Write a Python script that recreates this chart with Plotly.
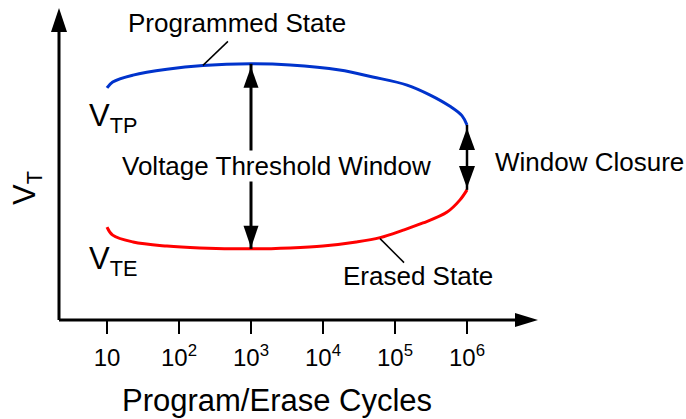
import numpy as np
import plotly.graph_objects as go

# ---------------- data ----------------
tick_vals = [10, 1e2, 1e3, 1e4, 1e5, 1e6]
tick_text = ["10", "10<sup>2</sup>", "10<sup>3</sup>", "10<sup>4</sup>",
             "10<sup>5</sup>", "10<sup>6</sup>"]

# programmed-state threshold voltage (arbitrary units) vs P/E cycles
prog_cycles = [10, 12, 23, 68, 215, 1000, 3500, 17000, 49000, 147000,
               308000, 580000, 850000, 1e6]
prog_vt = [7.44, 7.63, 7.85, 8.04, 8.16, 8.21, 8.17, 8.01, 7.79, 7.53,
           7.21, 6.85, 6.55, 6.25]

# erased-state threshold voltage (arbitrary units) vs P/E cycles
erase_cycles = [10, 12, 23, 68, 195, 1000, 3500, 1e4, 2.9e4, 6.2e4,
                1.3e5, 2.45e5, 5.3e5, 8e5, 1e6]
erase_vt = [2.98, 2.72, 2.50, 2.37, 2.31, 2.28, 2.31, 2.37, 2.50, 2.64,
            2.88, 3.11, 3.46, 3.85, 4.17]

# ---------------- layout geometry ----------------
W, H = 686, 419
ML, MR, MT, MB = 59, 148, 8, 99
PW, PH = W - ML - MR, H - MT - MB
FONT = "Liberation Sans, Arial, sans-serif"
BLUE = "#0033cc"
RED = "#ff0000"

x_lo = 1 - (107 - ML) / 72.0
x_hi = 1 + (W - MR - 107) / 72.0


def px(x):
    return (x - ML) / PW


def py(y):
    return (H - MB - y) / PH


fig = go.Figure()
fig.add_trace(go.Scatter(x=prog_cycles, y=prog_vt, mode="lines",
                         line=dict(color=BLUE, width=3, shape="spline"),
                         hoverinfo="skip"))
fig.add_trace(go.Scatter(x=erase_cycles, y=erase_vt, mode="lines",
                         line=dict(color=RED, width=3, shape="spline"),
                         hoverinfo="skip"))

shapes = []


def head(xa, ya, direction, L, Wd, gap, xref="x", yref="y"):
    if direction == "up":
        p = f"M0,{-gap} L{Wd},{-gap - L} L{-Wd},{-gap - L} Z"
    elif direction == "down":
        p = f"M0,{gap} L{Wd},{gap + L} L{-Wd},{gap + L} Z"
    else:  # right
        p = f"M{-gap},0 L{-gap - L},{Wd} L{-gap - L},{-Wd} Z"
    shapes.append(dict(type="path", path=p, xref=xref, yref=yref,
                       xsizemode="pixel", ysizemode="pixel",
                       xanchor=xa, yanchor=ya,
                       fillcolor="black", line=dict(width=0)))


# axes (lines with arrow heads)
shapes.append(dict(type="line", xref="paper", yref="paper", x0=0, x1=0,
                   y0=0, y1=1 - 20 / PH, line=dict(color="black", width=3)))
shapes.append(dict(type="line", xref="paper", yref="paper", x0=0,
                   x1=1 - 20 / PW, y0=0, y1=0,
                   line=dict(color="black", width=3)))
head(0, 1, "up", 24, 8, 0, xref="paper", yref="paper")
head(1, 0, "right", 23, 7, 0, xref="paper", yref="paper")

# voltage threshold window arrow at 10^3 cycles
i_w = prog_cycles.index(1000)
j_w = erase_cycles.index(1000)
shapes.append(dict(type="line", xref="x", yref="y",
                   x0=prog_cycles[i_w], x1=erase_cycles[j_w],
                   y0=prog_vt[i_w], y1=erase_vt[j_w],
                   line=dict(color="black", width=3)))
head(prog_cycles[i_w], prog_vt[i_w], "up", 21, 7.5, 3)
head(erase_cycles[j_w], erase_vt[j_w], "down", 22, 7.5, 1)

# window closure arrow at 10^6 cycles
shapes.append(dict(type="line", xref="x", yref="y",
                   x0=prog_cycles[-1], x1=erase_cycles[-1],
                   y0=prog_vt[-1], y1=erase_vt[-1],
                   line=dict(color="black", width=2.5)))
head(prog_cycles[-1], prog_vt[-1], "up", 22, 8, 3)
head(erase_cycles[-1], erase_vt[-1], "down", 22, 8, 2)

# leader lines
shapes.append(dict(type="line", xref="x", yref="y", xsizemode="pixel",
                   ysizemode="pixel", xanchor=prog_cycles[4],
                   yanchor=prog_vt[4], x0=0, y0=0, x1=25, y1=24,
                   line=dict(color="black", width=1.5)))
shapes.append(dict(type="line", xref="x", yref="y", xsizemode="pixel",
                   ysizemode="pixel", xanchor=erase_cycles[9],
                   yanchor=erase_vt[9], x0=0, y0=-1, x1=24, y1=-25,
                   line=dict(color="black", width=1.5)))

ann = []


def text(t, x, y, size, xanchor="center", angle=0, bg=None):
    d = dict(text=t, x=px(x), y=py(y), xref="paper", yref="paper",
             showarrow=False, xanchor=xanchor, yanchor="middle",
             textangle=angle, font=dict(family=FONT, size=size,
                                        color="black"))
    if bg:
        d.update(bgcolor=bg, borderpad=0)
    ann.append(d)


text("Programmed State", 236.5, 23.3, 26)
text("Voltage Threshold Window", 276.5, 166, 26, bg="white")
text("Window Closure", 589, 162.3, 26)
text("Erased State", 417.5, 276, 26)
text("V<sub>TP</sub>", 87, 118, 31, xanchor="left")
text("V<sub>TE</sub>", 87, 261, 31, xanchor="left")
text("V<sub>T</sub>", 27, 188, 31, angle=-90)
text("Program/Erase Cycles", 277, 400.3, 31)

fig.update_layout(
    width=W, height=H,
    margin=dict(l=ML, r=MR, t=MT, b=MB, pad=0),
    paper_bgcolor="white", plot_bgcolor="white",
    showlegend=False,
    font=dict(family=FONT, color="black"),
    xaxis=dict(type="log", range=[x_lo, x_hi], tickvals=tick_vals,
               ticktext=tick_text, ticks="outside", ticklen=13,
               tickwidth=2, tickcolor="black", showgrid=False,
               zeroline=False, showline=False, ticklabelstandoff=3,
               tickfont=dict(family=FONT, size=24, color="black")),
    xaxis2=dict(type="log", range=[x_lo, x_hi], overlaying="x",
                anchor="y", side="bottom", tickvals=tick_vals,
                ticks="inside", ticklen=12, tickwidth=2,
                tickcolor="black", showticklabels=False,
                showgrid=False, zeroline=False, showline=False),
    yaxis=dict(range=[0, 10], showgrid=False, zeroline=False,
               showticklabels=False, ticks="", showline=False),
    shapes=shapes,
    annotations=ann,
)

fig.write_html("out.html",
               config={"displayModeBar": False, "staticPlot": True},
               post_script="document.body.style.margin='0';"
                           "document.body.style.padding='0';")
